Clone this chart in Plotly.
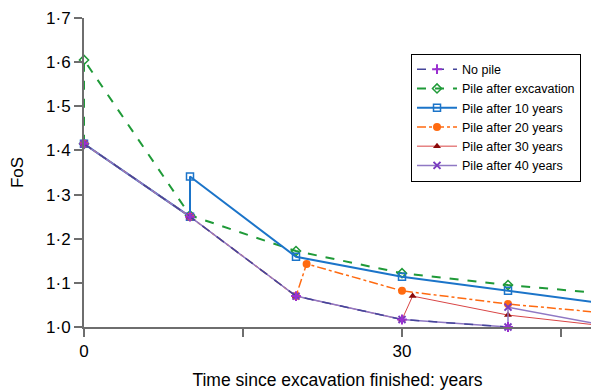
import plotly.graph_objects as go

# Data (time in years, FoS)
no_pile_t = [0, 10, 20, 30, 40]
no_pile_fos = [1.415, 1.25, 1.07, 1.017, 1.0]

exc_t = [0, 0, 10, 20, 30, 40, 50]
exc_fos = [1.415, 1.605, 1.253, 1.172, 1.122, 1.095, 1.074]

p10_t = [0, 10, 10, 20, 30, 40, 50]
p10_fos = [1.415, 1.25, 1.341, 1.159, 1.114, 1.082, 1.05]

p20_t = [0, 10, 20, 21, 30, 40, 50]
p20_fos = [1.415, 1.25, 1.07, 1.143, 1.082, 1.052, 1.03]

p30_t = [0, 10, 20, 30, 31, 40, 50]
p30_fos = [1.415, 1.25, 1.07, 1.017, 1.07, 1.027, 1.0]

p40_t = [0, 10, 20, 30, 40, 40, 50]
p40_fos = [1.415, 1.25, 1.07, 1.017, 1.0, 1.045, 1.0]

y_ticks = [1.0, 1.1, 1.2, 1.3, 1.4, 1.5, 1.6, 1.7]
y_tick_text = ["1·0", "1·1", "1·2", "1·3", "1·4", "1·5", "1·6", "1·7"]
x_ticks = [0, 15, 30, 45]
x_tick_text = ["0", "", "30", ""]

FONT = "Liberation Sans, Arial, sans-serif"

fig = go.Figure()

fig.add_trace(go.Scatter(
    x=exc_t, y=exc_fos, name="Pile after excavation", mode="lines+markers", legendrank=2,
    line=dict(color="#1f9a38", width=2, dash="dash"),
    marker=dict(symbol="diamond-open", size=7, color="#1f9a38", line=dict(width=1.5)),
    cliponaxis=False))

fig.add_trace(go.Scatter(
    x=p10_t, y=p10_fos, name="Pile after 10 years", mode="lines+markers", legendrank=3,
    line=dict(color="#1b74c9", width=2),
    marker=dict(symbol="square-open", size=7, color="#1b74c9", line=dict(width=1.5)),
    cliponaxis=False))

fig.add_trace(go.Scatter(
    x=p20_t, y=p20_fos, name="Pile after 20 years", mode="lines+markers", legendrank=4,
    line=dict(color="#ff6a10", width=1.5, dash="dashdot"),
    marker=dict(symbol="circle", size=8, color="#ff6a10"),
    cliponaxis=False))

fig.add_trace(go.Scatter(
    x=p30_t, y=p30_fos, name="Pile after 30 years", mode="lines+markers", legendrank=5,
    line=dict(color="#d94545", width=1),
    marker=dict(symbol="triangle-up", size=7, color="#8b0a0a"),
    cliponaxis=False))

fig.add_trace(go.Scatter(
    x=p40_t, y=p40_fos, name="Pile after 40 years", mode="lines+markers", legendrank=6,
    line=dict(color="#8f78c4", width=1.5),
    marker=dict(symbol="x-thin", size=7, line=dict(color="#7a3cc0", width=2)),
    cliponaxis=False))

fig.add_trace(go.Scatter(
    x=no_pile_t, y=no_pile_fos, name="No pile", mode="lines+markers", legendrank=1,
    line=dict(color="#45459a", width=1.5, dash="dash"),
    marker=dict(symbol="cross-thin", size=7, line=dict(color="#9b30d0", width=2)),
    cliponaxis=False))

fig.update_layout(
    width=591, height=392,
    margin=dict(l=84, r=0, t=18, b=65),
    paper_bgcolor="white", plot_bgcolor="white",
    font=dict(family=FONT, color="black", size=17),
    showlegend=True,
    legend=dict(
        x=0.645, y=0.885, xanchor="left", yanchor="top",
        bgcolor="white", bordercolor="black", borderwidth=1,
        font=dict(family=FONT, size=12.5, color="black"),
        tracegroupgap=0, itemwidth=40),
    xaxis=dict(
        range=[0, 47.83], tickvals=x_ticks, ticktext=x_tick_text,
        showgrid=False, zeroline=False, showline=True, linecolor="#6e6e6e", linewidth=2,
        ticks="outside", ticklen=8, tickwidth=2, tickcolor="#6e6e6e",
        tickfont=dict(family=FONT, size=17),
        title=dict(text="Time since excavation finished: years", font=dict(family=FONT, size=17.5), standoff=13)),
    yaxis=dict(
        range=[1.0, 1.7], tickvals=y_ticks, ticktext=y_tick_text,
        showgrid=False, zeroline=False, showline=True, linecolor="#6e6e6e", linewidth=2,
        ticks="outside", ticklen=8, tickwidth=2, tickcolor="#6e6e6e",
        tickfont=dict(family=FONT, size=17),
        title=dict(text="FoS", font=dict(family=FONT, size=17), standoff=18)),
)

fig.write_html("out.html")
